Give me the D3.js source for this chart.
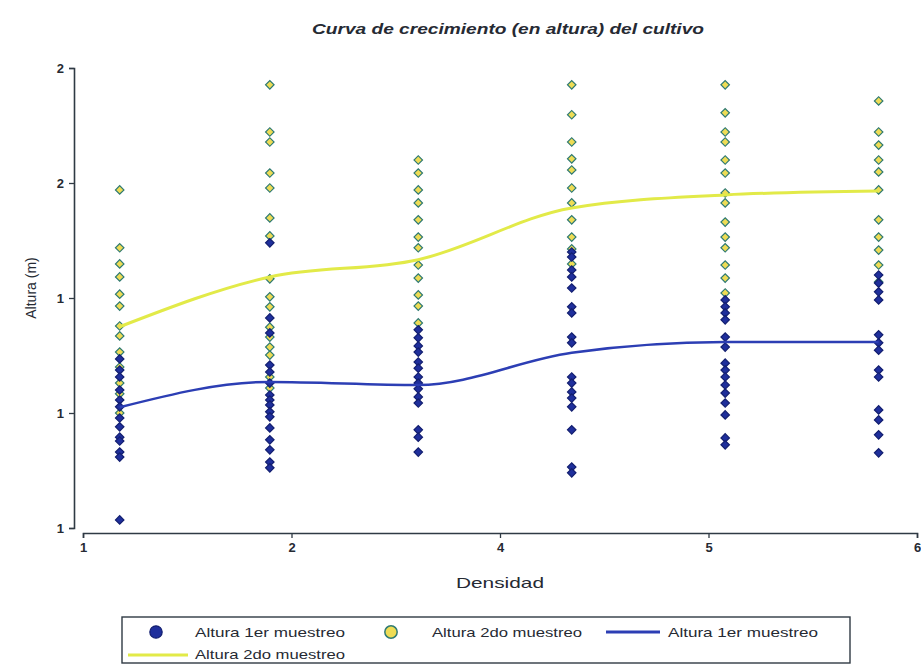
<!DOCTYPE html>
<html><head><meta charset="utf-8">
<script src="https://cdn.jsdelivr.net/npm/d3@7"></script>
<style>body{margin:0;background:#fff}svg{display:block;font-family:"Liberation Sans",Arial,sans-serif}</style>
</head><body><svg id="c" width="921" height="669"></svg>
<script>
const densidad = [1.22, 2.12, 3.01, 3.93, 4.85, 5.77];
const altura1 = [
  [1.041,1.012,0.994,0.960,0.934,0.916,0.887,0.864,0.837,0.827,0.798,0.785,0.621],
  [1.344,1.148,1.109,1.025,1.007,0.978,0.947,0.934,0.921,0.903,0.890,0.861,0.830,0.804,0.772,0.757],
  [1.117,1.096,1.075,1.059,1.033,1.017,0.994,0.978,0.963,0.942,0.926,0.856,0.837,0.798],
  [1.320,1.307,1.273,1.255,1.226,1.177,1.161,1.098,1.083,0.994,0.978,0.955,0.939,0.916,0.856,0.759,0.744],
  [1.195,1.177,1.161,1.143,1.098,1.072,1.030,1.012,0.994,0.973,0.952,0.926,0.895,0.835,0.817],
  [1.260,1.239,1.216,1.195,1.104,1.083,1.064,1.012,0.994,0.908,0.882,0.843,0.796]
];
const altura2 = [
  [1.482,1.331,1.289,1.255,1.210,1.179,1.127,1.101,1.059,1.020,0.978,0.950,0.900],
  [1.756,1.633,1.607,1.526,1.487,1.409,1.362,1.250,1.203,1.177,1.124,1.098,1.072,1.051,0.994,0.965],
  [1.560,1.526,1.482,1.448,1.404,1.359,1.331,1.286,1.252,1.208,1.179,1.135],
  [1.756,1.678,1.607,1.563,1.534,1.487,1.448,1.404,1.359,1.328,1.289],
  [1.756,1.683,1.633,1.607,1.560,1.526,1.474,1.448,1.398,1.359,1.331,1.286,1.252,1.213],
  [1.714,1.633,1.599,1.560,1.529,1.482,1.404,1.359,1.325,1.286,1.242]
];
const media1 = [0.915, 0.981, 0.973, 1.057, 1.085, 1.085];
const media2 = [1.125, 1.255, 1.300, 1.435, 1.469, 1.479];
const xTicks = [1, 2.25, 3.5, 4.75, 6];
const yTicks = [0.6, 0.9, 1.2, 1.5, 1.8];
const legendLabels = ["Altura 1er muestreo", "Altura 2do muestreo", "Altura 1er muestreo", "Altura 2do muestreo"];

const svg = d3.select("#c");
const x = d3.scaleLinear().domain([1, 6]).range([83, 917]);
const y = d3.scaleLinear().domain([0.6, 1.8]).range([528, 68]);
const fmt = d3.format(".0f");
const textCol = "#262a33";

// title
svg.append("text").attr("x", 312).attr("y", 34)
  .attr("font-size", 15).attr("font-weight", "bold").attr("font-style", "italic")
  .attr("textLength", 392).attr("lengthAdjust", "spacingAndGlyphs")
  .attr("fill", textCol).text("Curva de crecimiento (en altura) del cultivo");

// axes
const yAx = svg.append("g").attr("transform", "translate(74,0)")
  .call(d3.axisLeft(y).tickValues(yTicks).tickFormat(fmt).tickSize(5).tickPadding(5));
const xAx = svg.append("g").attr("transform", "translate(0,533)")
  .call(d3.axisBottom(x).tickValues(xTicks).tickFormat(fmt).tickSize(5).tickPadding(5));
[yAx, xAx].forEach(g => {
  g.selectAll("path").attr("stroke", "#2f3a44").attr("stroke-width", 1.6);
  g.selectAll("line").attr("stroke", "#2f3a44").attr("stroke-width", 1.3);
  g.selectAll("text").attr("fill", textCol).attr("font-size", 13).attr("font-weight", "bold")
    .attr("font-family", "Liberation Sans, Arial, sans-serif");
});

svg.append("text").attr("transform", "translate(36,288) rotate(-90)").attr("text-anchor", "middle")
  .attr("font-size", 14).attr("fill", textCol).text("Altura (m)");
svg.append("text").attr("x", 456).attr("y", 588)
  .attr("font-size", 15).attr("textLength", 88).attr("lengthAdjust", "spacingAndGlyphs")
  .attr("fill", textCol).text("Densidad");

// markers
const sym = d3.symbol().type(d3.symbolSquare).size(36);
const blueFill = "#1f2f9c", blueStroke = "#131f70";
const yelFill = "#eedc55", yelStroke = "#2f7a72";

function pts(arr) {
  const out = [];
  arr.forEach((col, i) => col.forEach(v => out.push({ x: densidad[i], v })));
  return out;
}
svg.append("g").selectAll("path").data(pts(altura2)).join("path")
  .attr("d", sym).attr("transform", d => `translate(${x(d.x)},${y(d.v)}) rotate(45)`)
  .attr("fill", yelFill).attr("stroke", yelStroke).attr("stroke-width", 1.2);
svg.append("g").selectAll("path").data(pts(altura1)).join("path")
  .attr("d", sym).attr("transform", d => `translate(${x(d.x)},${y(d.v)}) rotate(45)`)
  .attr("fill", blueFill).attr("stroke", blueStroke).attr("stroke-width", 1.2);

// lines
const line = d3.line().x((d, i) => x(densidad[i])).y(d => y(d)).curve(d3.curveMonotoneX);
svg.append("path").datum(media2).attr("d", line).attr("fill", "none")
  .attr("stroke", "#e2ea48").attr("stroke-width", 3);
svg.append("path").datum(media1).attr("d", line).attr("fill", "none")
  .attr("stroke", "#2c3eb4").attr("stroke-width", 2.5);

// legend
const lg = svg.append("g");
lg.append("rect").attr("x", 122).attr("y", 617).attr("width", 728).attr("height", 46)
  .attr("fill", "#fff").attr("stroke", "#2f3a44").attr("stroke-width", 1.4);
const r1 = 632, r2 = 654;
const bigSym = d3.symbol().type(d3.symbolCircle).size(120);
lg.append("path").attr("d", bigSym).attr("transform", `translate(156,${r1})`)
  .attr("fill", blueFill).attr("stroke", blueStroke).attr("stroke-width", 1.2);
lg.append("path").attr("d", bigSym).attr("transform", `translate(391,${r1})`)
  .attr("fill", yelFill).attr("stroke", yelStroke).attr("stroke-width", 1.5);
lg.append("line").attr("x1", 606).attr("x2", 660).attr("y1", r1).attr("y2", r1)
  .attr("stroke", "#2c3eb4").attr("stroke-width", 3);
lg.append("line").attr("x1", 128).attr("x2", 188).attr("y1", r2 + 1).attr("y2", r2 + 1)
  .attr("stroke", "#e2ea48").attr("stroke-width", 3);
const lpos = [[195, r1], [432, r1], [668, r1], [195, r2]];
lpos.forEach((p, i) => lg.append("text").attr("x", p[0]).attr("y", p[1] + 5)
  .attr("font-size", 13).attr("textLength", 150).attr("lengthAdjust", "spacingAndGlyphs")
  .attr("fill", textCol).text(legendLabels[i]));
</script></body></html>
